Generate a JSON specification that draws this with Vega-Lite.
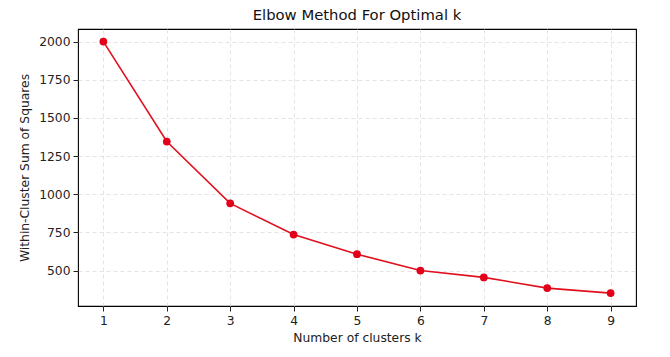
{
  "$schema": "https://vega.github.io/schema/vega-lite/v6.json",
  "autosize": "none",
  "width": 558,
  "height": 277,
  "padding": {"left": 78, "top": 29, "right": 34, "bottom": 51},
  "background": "white",
  "config": {
    "font": "DejaVu Sans",
    "view": {"stroke": "black", "strokeWidth": 1.1},
    "axis": {
      "labelFont": "DejaVu Sans",
      "titleFont": "DejaVu Sans",
      "labelFontSize": 12.3,
      "titleFontSize": 12.3,
      "labelColor": "#222",
      "titleColor": "#222",
      "titleFontWeight": "normal",
      "domain": false,
      "tickColor": "#222",
      "tickSize": 5,
      "gridColor": "#dddddd",
      "gridDash": [4, 3],
      "gridWidth": 0.8,
      "format": "d"
    }
  },
  "title": {
    "text": "Elbow Method For Optimal k",
    "fontSize": 14.8,
    "fontWeight": "normal",
    "font": "DejaVu Sans",
    "color": "#111",
    "offset": 6
  },
  "data": {
    "values": [
      {"k": 1, "wcss": 2000},
      {"k": 2, "wcss": 1345},
      {"k": 3, "wcss": 940},
      {"k": 4, "wcss": 736},
      {"k": 5, "wcss": 607},
      {"k": 6, "wcss": 500},
      {"k": 7, "wcss": 455},
      {"k": 8, "wcss": 385},
      {"k": 9, "wcss": 352}
    ]
  },
  "encoding": {
    "x": {
      "field": "k",
      "type": "quantitative",
      "scale": {"domain": [0.6, 9.4], "nice": false, "zero": false},
      "axis": {"values": [1, 2, 3, 4, 5, 6, 7, 8, 9], "title": "Number of clusters k", "titlePadding": 5, "labelPadding": 3}
    },
    "y": {
      "field": "wcss",
      "type": "quantitative",
      "scale": {"domain": [267.6, 2082.4], "nice": false, "zero": false},
      "axis": {"values": [500, 750, 1000, 1250, 1500, 1750, 2000], "title": "Within-Cluster Sum of Squares", "titlePadding": 7, "labelPadding": 3}
    }
  },
  "layer": [
    {"mark": {"type": "line", "color": "#e0101e", "strokeWidth": 1.6}},
    {"mark": {"type": "point", "filled": true, "color": "#e3001b", "opacity": 1, "size": 60}}
  ]
}
